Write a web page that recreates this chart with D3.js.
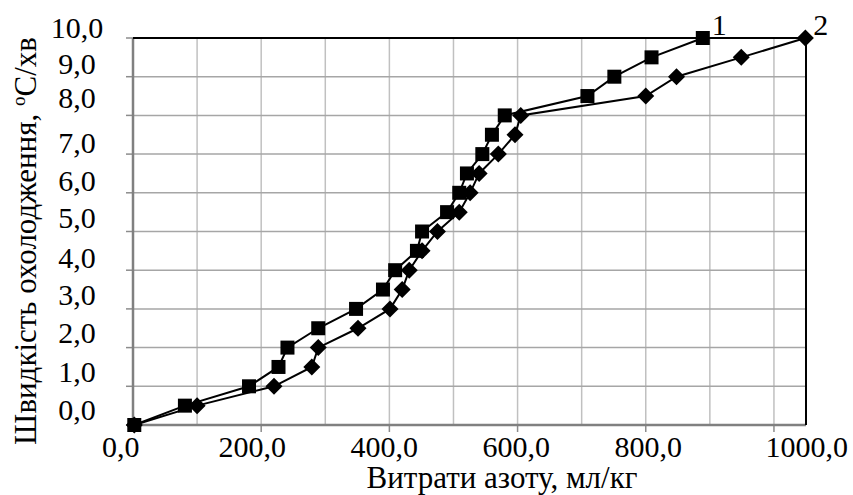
<!DOCTYPE html>
<html>
<head>
<meta charset="utf-8">
<script src="https://cdn.jsdelivr.net/npm/d3@7/dist/d3.min.js"></script>
<style>
  html, body { margin: 0; padding: 0; background: #fff; }
  text { font-family: "Liberation Serif", "Times New Roman", serif; fill: #000; }
</style>
</head>
<body>
<svg id="chart" width="853" height="495"></svg>
<script>
// ---- data ----
const yValues = [0,0.5,1,1.5,2,2.5,3,3.5,4,4.5,5,5.5,6,6.5,7,7.5,8,8.5,9,9.5,10];
const series1X = [2,81,181,227,241,289,348,390,409,443,451,490,509,521,545,560,580,709,751,809,889];
const series2X = [2,100,220,279,289,351,401,420,431,451,475,509,526,540,570,596,605,800,848,949,1049];
const seriesNames = ["1", "2"];
const xTickLabels = ["0,0","200,0","400,0","600,0","800,0","1000,0"];
const xTickAt = [-19, 186, 392, 598, 804, 1051];
const yTickLabels = ["0,0","1,0","2,0","3,0","4,0","5,0","6,0","7,0","8,0","9,0","10,0"];
const yTickAt = [0.39,1.37,2.38,3.36,4.34,5.35,6.33,7.31,8.47,9.35,10.28];
const xGrid = [0,100,200,300,400,500,600,700,800,900,1000];
const xMajor = [0,200,400,600,800,1000];
const yGrid = [0,1,2,3,4,5,6,7,8,9,10];
const xTitle = "Витрати азоту, мл/кг";

// ---- layout ----
const svg = d3.select("#chart");
const x = d3.scaleLinear().domain([0, 1050]).range([133, 806]);
const y = d3.scaleLinear().domain([0, 10]).range([425, 38]);

// vertical gridlines
svg.append("g").selectAll("line").data(xGrid).join("line")
  .attr("x1", d => x(d)).attr("x2", d => x(d))
  .attr("y1", y(10)).attr("y2", y(0))
  .attr("stroke", "#c0c0c0").attr("stroke-width", 1.5);
// horizontal gridlines
svg.append("g").selectAll("line").data(yGrid).join("line")
  .attr("x1", x(0)).attr("x2", x(1050))
  .attr("y1", d => y(d)).attr("y2", d => y(d))
  .attr("stroke", "#a6a6a6").attr("stroke-width", 1.5);

// left ticks
svg.append("g").selectAll("line").data(yGrid).join("line")
  .attr("x1", x(0) - 7).attr("x2", x(0))
  .attr("y1", d => y(d)).attr("y2", d => y(d))
  .attr("stroke", "#8c8c8c").attr("stroke-width", 1.5);
// bottom ticks
svg.append("g").selectAll("line").data(xMajor).join("line")
  .attr("x1", d => x(d)).attr("x2", d => x(d))
  .attr("y1", y(0)).attr("y2", y(0) + 7)
  .attr("stroke", "#8c8c8c").attr("stroke-width", 1.5);

// axes lines
svg.append("line").attr("x1", x(0)).attr("x2", x(0)).attr("y1", y(10)).attr("y2", y(0))
  .attr("stroke", "#808080").attr("stroke-width", 2.5);
svg.append("line").attr("x1", x(0)).attr("x2", x(1050)).attr("y1", y(0)).attr("y2", y(0))
  .attr("stroke", "#808080").attr("stroke-width", 2.5);
// top and right frame
svg.append("line").attr("x1", x(0)).attr("x2", x(1050)).attr("y1", y(10)).attr("y2", y(10))
  .attr("stroke", "#000").attr("stroke-width", 2);
svg.append("line").attr("x1", x(1050)).attr("x2", x(1050)).attr("y1", y(10)).attr("y2", y(0))
  .attr("stroke", "#000").attr("stroke-width", 2);

// lines
const line = d3.line().x(d => x(d[0])).y(d => y(d[1]));
const s1 = series1X.map((v, i) => [v, yValues[i]]);
const s2 = series2X.map((v, i) => [v, yValues[i]]);
svg.append("path").attr("d", line(s1)).attr("fill", "none").attr("stroke", "#000").attr("stroke-width", 2);
svg.append("path").attr("d", line(s2)).attr("fill", "none").attr("stroke", "#000").attr("stroke-width", 2);

// markers
svg.append("g").selectAll("rect").data(s1).join("rect")
  .attr("x", d => x(d[0]) - 7).attr("y", d => y(d[1]) - 7)
  .attr("width", 14).attr("height", 14).attr("fill", "#000");
const diamond = d3.symbol().type(d3.symbolSquare).size(145);
svg.append("g").selectAll("path").data(s2).join("path")
  .attr("d", diamond)
  .attr("transform", d => `translate(${x(d[0])},${y(d[1])}) rotate(45)`)
  .attr("fill", "#000");

// series labels
svg.append("text").attr("x", x(series1X[20]) + 9).attr("y", y(10) - 3)
  .attr("font-size", 30).text(seriesNames[0]);
svg.append("text").attr("x", x(series2X[20]) + 8).attr("y", y(10) - 3)
  .attr("font-size", 30).text(seriesNames[1]);

// tick labels
svg.append("g").selectAll("text").data(xTickLabels).join("text")
  .attr("x", (d, i) => x(xTickAt[i])).attr("y", 457)
  .attr("text-anchor", "middle").attr("font-size", 30).text(d => d);
svg.append("g").selectAll("text").data(yTickLabels).join("text")
  .attr("x", 77).attr("y", (d, i) => y(yTickAt[i]))
  .attr("dy", "0.35em")
  .attr("text-anchor", "middle").attr("font-size", 30).text(d => d);

// axis titles
svg.append("text").attr("x", 502).attr("y", 488)
  .attr("text-anchor", "middle").attr("font-size", 31).text(xTitle);
const yt = svg.append("text")
  .attr("transform", "translate(36,241) rotate(-90)")
  .attr("text-anchor", "middle").attr("font-size", 31);
yt.append("tspan").text("Швидкість охолодження, ");
yt.append("tspan").attr("font-size", 19).attr("dy", -11).text("o");
yt.append("tspan").attr("dy", 11).text("С/хв");
</script>
</body>
</html>
